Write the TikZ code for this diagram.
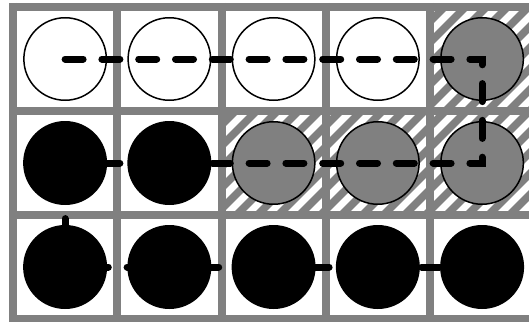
\documentclass[tikz,border=0pt]{standalone}
\definecolor{gridgray}{RGB}{128,128,128}
\definecolor{cellgray}{RGB}{128,128,128}
\tikzset{
  gridline/.style={draw=gridgray, line width=8pt},
  circ/.style={circle, draw=black, line width=1.5pt, minimum size=82.5pt, inner sep=0pt},
  emptycirc/.style={circ, fill=white},
  graycirc/.style={circ, fill=cellgray},
  blackcirc/.style={circ, fill=black},
  stripe/.style={draw=white, line width=7pt},
  dashpath/.style={draw=black, line width=7pt, line cap=round, dash pattern=on 18pt off 18.8pt},
}
\begin{document}
\begin{tikzpicture}[x=1pt,y=-1pt]
\useasboundingbox (0,0) rectangle (529,321);
\fill[white] (0,0) rectangle (529,321);
% hatched cells
\begin{scope}
  \clip (430,7) rectangle (534.25,111) (221.5,111) rectangle (534.25,215);
  \fill[cellgray] (221.5,7) rectangle (534.25,215);
  \foreach \c in {-120,-99,...,560} \draw[stripe] (\c,330) -- (\c+330,0);
\end{scope}
% grid
\foreach \x in {13,117.25,221.5,325.75,430,534.25}
  \draw[gridline] (\x,3) -- (\x,323);
\foreach \y in {7,111,215,319}
  \draw[gridline] (9,\y) -- (538.25,\y);
% row 1
\node[emptycirc] (c11) at (65.1,59) {};
\node[emptycirc] (c12) at (169.35,59) {};
\node[emptycirc] (c13) at (273.6,59) {};
\node[emptycirc] (c14) at (377.85,59) {};
\node[graycirc]  (c15) at (482.1,59) {};
% row 2
\node[blackcirc] (c21) at (65.1,163) {};
\node[blackcirc] (c22) at (169.35,163) {};
\node[graycirc]  (c23) at (273.6,163) {};
\node[graycirc]  (c24) at (377.85,163) {};
\node[graycirc]  (c25) at (482.1,163) {};
% row 3
\node[blackcirc] (c31) at (65.1,267) {};
\node[blackcirc] (c32) at (169.35,267) {};
\node[blackcirc] (c33) at (273.6,267) {};
\node[blackcirc] (c34) at (377.85,267) {};
\node[blackcirc] (c35) at (482.1,267) {};
% path
\draw[dashpath] (c11.center) -- (c15.center) -- (c25.center) -- (c21.center) -- (c31.center) -- (c35.center);
\end{tikzpicture}
\end{document}
